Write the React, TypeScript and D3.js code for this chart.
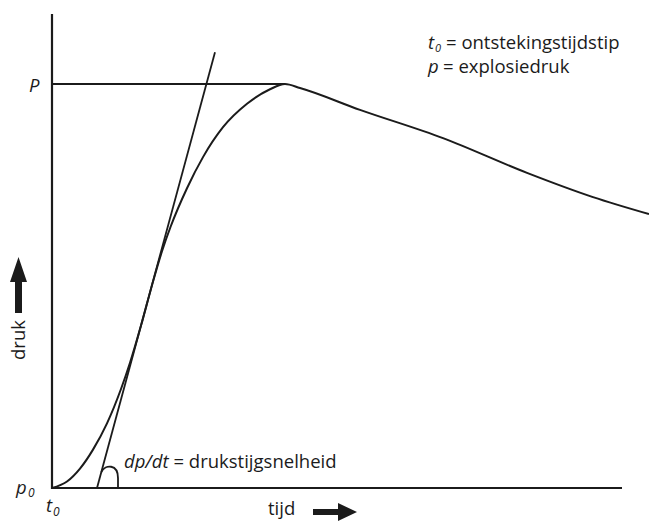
import * as d3 from "d3";

// explosie-drukcurve (t in ms, p in % van P)
const curveTime = [0, 3, 5.6, 8.2, 11, 13.8, 15.6, 17.8, 20, 22, 23.7, 27, 30.2, 34.2, 39, 43.6, 46.6, 49.6, 61.6, 78.2, 95, 108.2, 119.4];
const curvePressure = [0, 1.6, 4.8, 9.5, 16, 24.5, 31, 40.2, 50.2, 58.6, 64.6, 74.2, 81.9, 89.3, 95.1, 98.7, 100, 99, 93.6, 86.6, 78, 72, 67.8];

// raaklijn dp/dt
const tangentStart = 9;
const tangentEnd = 32.6;
const tangentSlope = 4.57;

const peakTime = 46.6;
const peakPressure = 100;

const legendLines = [
  { sym: "t", sub: "0", text: "= ontstekingstijdstip" },
  { sym: "p", sub: "", text: "= explosiedruk" },
];

const W = 649;
const H = 521;
const FONT = "'Open Sans', 'DejaVu Sans', sans-serif";
const INK = "#1b1b1b";
const FS = 18.5;

const App = () => {
  const x = d3.scaleLinear().domain([0, 114]).range([52, 622]);
  const y = d3.scaleLinear().domain([0, 100]).range([488, 84]);

  const pts: [number, number][] = curveTime.map((t, i) => [t, curvePressure[i]]);
  const line = d3
    .line<[number, number]>()
    .x((d) => x(d[0]))
    .y((d) => y(d[1]))
    .curve(d3.curveMonotoneX);

  const tx0 = x(tangentStart);
  const ty0 = y(0);
  const tx1 = x(tangentEnd);
  const ty1 = y(tangentSlope * (tangentEnd - tangentStart));

  // boogje bij de raaklijn
  const arcStartY = ty0 - 16;
  const frac = (ty0 - arcStartY) / (ty0 - ty1);
  const arcStartX = tx0 + frac * (tx1 - tx0);
  const arcEndX = tx0 + 21;
  const arcPath = `M${arcStartX},${arcStartY} C${arcStartX + 4},${ty0 - 24} ${arcEndX},${ty0 - 24} ${arcEndX},${ty0 - 10} L${arcEndX},${ty0}`;

  const yTop = y(117.3);

  return (
    <svg
      width={W}
      height={H}
      style={{ position: "absolute", left: 0, top: 0, background: "#fff" }}
      fontFamily={FONT}
    >
      {/* assen */}
      <line x1={x(0)} y1={yTop} x2={x(0)} y2={y(0) + 1} stroke={INK} strokeWidth={2.2} />
      <line x1={x(0) - 1} y1={y(0)} x2={x(114)} y2={y(0)} stroke={INK} strokeWidth={2.2} />

      {/* P-lijn */}
      <line x1={x(0)} y1={y(peakPressure)} x2={x(peakTime)} y2={y(peakPressure)} stroke={INK} strokeWidth={2} />

      {/* raaklijn */}
      <line x1={tx0} y1={ty0} x2={tx1} y2={ty1} stroke={INK} strokeWidth={1.8} />
      <path d={arcPath} fill="none" stroke={INK} strokeWidth={1.8} />

      {/* drukcurve */}
      <path d={line(pts) ?? ""} fill="none" stroke={INK} strokeWidth={2} />

      {/* labels */}
      <text x={29} y={92} fontSize={FS} fontStyle="italic" fill={INK}>P</text>
      <text x={16} y={494} fontSize={FS} fontStyle="italic" fill={INK}>p</text>
      <text x={28} y={497} fontSize={12} fontStyle="italic" fill={INK}>0</text>
      <text x={46} y={512} fontSize={FS} fontStyle="italic" fill={INK}>t</text>
      <text x={53} y={516} fontSize={12} fontStyle="italic" fill={INK}>0</text>
      <text x={124} y={468} fontSize={FS} fill={INK}>
        <tspan fontStyle="italic">dp/dt</tspan> = drukstijgsnelheid
      </text>

      <text x={268} y={515} fontSize={FS} fill={INK}>tijd</text>
      <path d="M313,509 L338,509 L338,503 L357,512 L338,521 L338,515 L313,515 Z" fill={INK} />

      <text x={25} y={340} fontSize={FS} fill={INK} textAnchor="middle" transform="rotate(-90 25 340)">druk</text>
      <path d="M15,313 L15,282 L10,282 L18.5,257 L27,282 L22,282 L22,313 Z" fill={INK} />

      {legendLines.map((l, i) => (
        <g key={i}>
          <text x={428} y={49 + i * 24} fontSize={FS} fontStyle="italic" fill={INK}>{l.sym}</text>
          {l.sub && (
            <text x={435} y={52 + i * 24} fontSize={11} fontStyle="italic" fill={INK}>{l.sub}</text>
          )}
          <text x={l.sub ? 446 : 443} y={49 + i * 24} fontSize={FS} fill={INK}>{l.text}</text>
        </g>
      ))}
    </svg>
  );
};

export default App;
